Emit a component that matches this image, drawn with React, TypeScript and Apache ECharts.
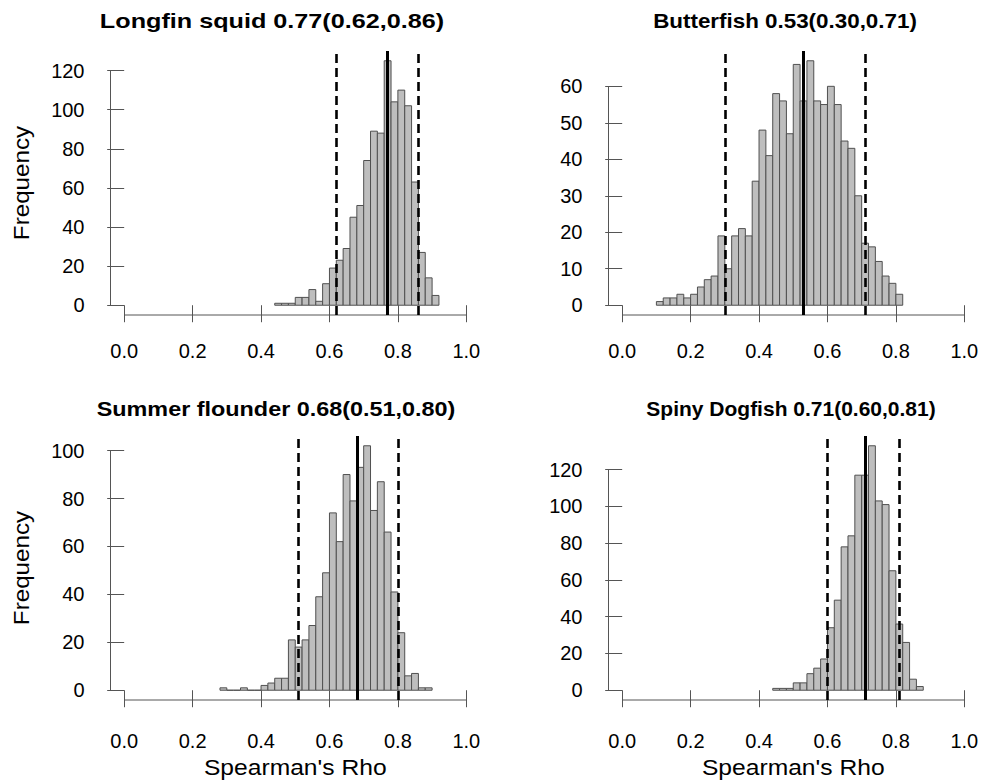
import React, { useEffect, useRef } from 'react';
import * as echarts from 'echarts';

const BIN_WIDTH = 0.02;
const xTicks = [0, 0.2, 0.4, 0.6, 0.8, 1.0];

const squidStart = 0.44;
const squidCounts = [1, 1, 1, 4, 4, 8, 2, 11, 19, 23, 29, 45, 51, 74, 89, 88, 125, 104, 110, 102, 63, 27, 14, 5];
const squidTicks = [0, 20, 40, 60, 80, 100, 120];
const squidStats = [0.77, 0.62, 0.86];

const butterStart = 0.10;
const butterCounts = [1, 2, 2, 3, 2, 3, 5, 7, 8, 19, 10, 19, 21, 19, 34, 48, 41, 58, 56, 47, 66, 56, 67, 56, 55, 60, 55, 45, 43, 30, 17, 16, 12, 8, 6, 3];
const butterTicks = [0, 10, 20, 30, 40, 50, 60];
const butterStats = [0.53, 0.30, 0.71];

const flounderStart = 0.28;
const flounderCounts = [1, 0, 0, 1, 0, 0, 2, 3, 5, 5, 21, 18, 21, 27, 39, 49, 74, 62, 90, 79, 93, 102, 75, 87, 66, 41, 24, 6, 7, 1, 1];
const flounderTicks = [0, 20, 40, 60, 80, 100];
const flounderStats = [0.68, 0.51, 0.80];

const dogfishStart = 0.44;
const dogfishCounts = [1, 1, 1, 4, 4, 9, 12, 17, 34, 49, 78, 84, 117, 117, 133, 103, 101, 65, 36, 26, 6, 2];
const dogfishTicks = [0, 20, 40, 60, 80, 100, 120];
const dogfishStats = [0.71, 0.60, 0.81];

const titles = [
  'Longfin squid 0.77(0.62,0.86)',
  'Butterfish 0.53(0.30,0.71)',
  'Summer flounder 0.68(0.51,0.80)',
  'Spiny Dogfish 0.71(0.60,0.81)',
];

const panels = [
  { start: squidStart, counts: squidCounts, ticks: squidTicks, stats: squidStats, col: 0, row: 0, titleX: 272, titleScale: 1.26 },
  { start: butterStart, counts: butterCounts, ticks: butterTicks, stats: butterStats, col: 1, row: 0, titleX: 785, titleScale: 1.12 },
  { start: flounderStart, counts: flounderCounts, ticks: flounderTicks, stats: flounderStats, col: 0, row: 1, titleX: 276, titleScale: 1.17 },
  { start: dogfishStart, counts: dogfishCounts, ticks: dogfishTicks, stats: dogfishStats, col: 1, row: 1, titleX: 791, titleScale: 1.05 },
];

const GRID_LEFT = [110.5, 608.5];
const GRID_TOP = [51, 436];
const GRID_W = 369.5;
const GRID_H = 264;
const LABEL_MARGIN = [26, 31];
const FONT = '"Liberation Sans", Arial, Helvetica, sans-serif';
const AXIS_COLOR = '#555';

export default function App() {
  const ref = useRef<HTMLDivElement>(null);

  useEffect(() => {
    if (!ref.current) return;
    const chart = echarts.init(ref.current, undefined, { renderer: 'svg' });

    const grid: any[] = [];
    const xAxis: any[] = [];
    const yAxis: any[] = [];
    const series: any[] = [];
    const graphic: any[] = [];

    panels.forEach((p, i) => {
      const M = Math.max(...p.counts);
      const yMin = -0.04 * M;
      const yMax = 1.04 * M;
      grid.push({
        left: GRID_LEFT[p.col],
        top: GRID_TOP[p.row],
        width: GRID_W,
        height: GRID_H,
        containLabel: false,
        outerBoundsMode: 'none',
      });
      xAxis.push({
        gridIndex: i,
        type: 'value',
        min: -0.04,
        max: 1.04,
        axisLine: { show: false },
        splitLine: { show: false },
        axisTick: {
          show: true,
          inside: false,
          length: 17,
          customValues: xTicks,
          lineStyle: { color: AXIS_COLOR, width: 1 },
        },
        axisLabel: {
          show: true,
          customValues: xTicks,
          formatter: (v: number) => v.toFixed(1),
          fontSize: 20,
          fontFamily: FONT,
          color: '#000',
          margin: LABEL_MARGIN[p.row],
        },
      });
      yAxis.push({
        gridIndex: i,
        type: 'value',
        min: yMin,
        max: yMax,
        axisLine: { show: false },
        splitLine: { show: false },
        axisTick: {
          show: true,
          inside: false,
          length: 17,
          customValues: p.ticks,
          lineStyle: { color: AXIS_COLOR, width: 1 },
        },
        axisLabel: {
          show: true,
          customValues: p.ticks,
          formatter: (v: number) => String(Math.round(v)),
          fontSize: 20,
          fontFamily: FONT,
          color: '#000',
          margin: 26,
        },
      });

      const data = p.counts.map((c, k) => [p.start + k * BIN_WIDTH, p.start + (k + 1) * BIN_WIDTH, c]);
      const [mean, lo, hi] = p.stats;
      const dashed = { type: [9, 5], width: 2.6, color: '#000' };
      series.push({
        type: 'custom',
        xAxisIndex: i,
        yAxisIndex: i,
        data,
        encode: { x: [0, 1], y: 2 },
        z: 2,
        renderItem: (params: any, api: any) => {
          const x0 = api.value(0);
          const x1 = api.value(1);
          const h = api.value(2);
          const a = api.coord([x0, h]);
          const b = api.coord([x1, 0]);
          return {
            type: 'rect',
            shape: { x: a[0], y: a[1], width: b[0] - a[0], height: b[1] - a[1] },
            style: { fill: '#bebebe', stroke: '#505050', lineWidth: 1 },
          };
        },
        markLine: {
          silent: true,
          symbol: ['none', 'none'],
          label: { show: false },
          animation: false,
          data: [
            { xAxis: lo, lineStyle: dashed },
            { xAxis: hi, lineStyle: dashed },
            { xAxis: mean, lineStyle: { type: 'solid', width: 3, color: '#000' } },
          ],
        },
      });
      // axis lines (R style: spanning only the tick range)
      series.push({
        type: 'line',
        xAxisIndex: i,
        yAxisIndex: i,
        data: [[xTicks[0], yMin], [xTicks[xTicks.length - 1], yMin]],
        symbol: 'none',
        clip: false,
        silent: true,
        lineStyle: { color: AXIS_COLOR, width: 1 },
        z: 1,
      });
      series.push({
        type: 'line',
        xAxisIndex: i,
        yAxisIndex: i,
        data: [[-0.04, p.ticks[0]], [-0.04, p.ticks[p.ticks.length - 1]]],
        symbol: 'none',
        clip: false,
        silent: true,
        lineStyle: { color: AXIS_COLOR, width: 1 },
        z: 1,
      });

      graphic.push({
        type: 'text',
        x: p.titleX,
        y: p.row === 0 ? 21 : 409,
        scaleX: p.titleScale,
        style: {
          text: titles[i],
          fontSize: 20,
          fontWeight: 'bold',
          fontFamily: FONT,
          fill: '#000',
          textAlign: 'center',
          textVerticalAlign: 'middle',
          align: 'center',
          verticalAlign: 'middle',
        },
      });
      if (p.col === 0) {
        graphic.push({
          type: 'text',
          x: 21,
          y: GRID_TOP[p.row] + GRID_H / 2,
          rotation: Math.PI / 2,
          scaleX: 1.1,
          style: {
            text: 'Frequency',
            fontSize: 22,
            fontFamily: FONT,
            fill: '#000',
            textAlign: 'center',
            textVerticalAlign: 'middle',
            align: 'center',
            verticalAlign: 'middle',
          },
        });
      }
      if (p.row === 1) {
        graphic.push({
          type: 'text',
          x: GRID_LEFT[p.col] + GRID_W / 2,
          y: 767,
          scaleX: 1.12,
          style: {
            text: "Spearman's Rho",
            fontSize: 22,
            fontFamily: FONT,
            fill: '#000',
            textAlign: 'center',
            textVerticalAlign: 'middle',
            align: 'center',
            verticalAlign: 'middle',
          },
        });
      }
    });

    chart.setOption({
      animation: false,
      backgroundColor: '#fff',
      grid,
      xAxis,
      yAxis,
      series,
      graphic,
    });

    return () => chart.dispose();
  }, []);

  return (
    <div
      ref={ref}
      style={{ position: 'absolute', left: 0, top: 0, width: 981, height: 784 }}
    />
  );
}
